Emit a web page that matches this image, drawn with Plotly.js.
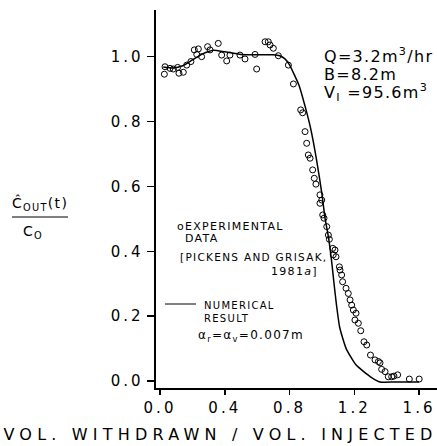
<!DOCTYPE html>
<html>
<head>
<meta charset="utf-8">
<script src="https://cdn.plot.ly/plotly-3.0.1.min.js"></script>
<style>
  body { margin: 0; background: #fff; }
  #chart { width: 437px; height: 446px; }
  .xtick text, .ytick text { letter-spacing: 3px; }
  .annotation-text { letter-spacing: 1.3px; }
</style>
</head>
<body>
<div id="chart"></div>
<script>
// Experimental data (Pickens and Grisak, 1981a)
const expX = [0.027,0.031,0.062,0.082,0.109,0.117,0.144,0.165,0.191,0.212,0.227,0.237,0.257,0.294,0.309,0.36,0.381,0.412,0.432,0.494,0.525,0.587,0.597,0.649,0.669,0.68,0.70,0.731,0.793,0.824,0.869,0.881,0.896,0.906,0.916,0.927,0.943,0.953,0.963,0.988,0.999,0.988,1.005,1.013,1.03,1.04,1.046,1.067,1.081,1.07,1.087,1.108,1.112,1.122,1.128,1.149,1.163,1.174,1.184,1.194,1.211,1.204,1.225,1.24,1.26,1.277,1.3,1.328,1.349,1.359,1.369,1.39,1.41,1.431,1.445,1.468,1.54,1.601];
const expY = [0.946,0.969,0.964,0.962,0.967,0.949,0.952,0.974,0.985,1.021,1.007,1.024,1.0,1.031,1.021,1.041,1.005,0.987,1.005,1.005,0.993,1.007,0.962,1.046,1.046,1.036,1.026,1.003,0.974,0.916,0.836,0.827,0.769,0.733,0.697,0.687,0.651,0.625,0.607,0.574,0.558,0.548,0.512,0.502,0.476,0.45,0.437,0.409,0.404,0.389,0.383,0.352,0.342,0.327,0.306,0.286,0.27,0.25,0.234,0.219,0.209,0.188,0.178,0.155,0.121,0.111,0.08,0.065,0.06,0.056,0.036,0.029,0.013,0.013,0.015,0.019,0.006,0.006];

// Numerical result
const numX = [0.02,0.08,0.14,0.2,0.26,0.33,0.4,0.5,0.6,0.7,0.74,0.77,0.8,0.83,0.86,0.9,0.93,0.968,1.0,1.02,1.04,1.06,1.075,1.09,1.11,1.15,1.21,1.3,1.36,1.45,1.6];
const numY = [0.968,0.965,0.972,0.99,1.008,1.02,1.015,1.007,1.006,1.006,1.003,0.994,0.975,0.944,0.91,0.84,0.78,0.679,0.577,0.50,0.445,0.37,0.30,0.235,0.165,0.10,0.05,0.013,-0.003,-0.003,-0.003];

const xTicks = [0.0,0.4,0.8,1.2,1.6];
const xTickText = ["0.0","0.4","0.8","1.2","1.6"];
const yTicks = [0.0,0.2,0.4,0.6,0.8,1.0];
const yTickText = ["0.0","0.2","0.4","0.6","0.8","1.0"];
const xTitle = 'VOL. WITHDRAWN / VOL. INJECTED';

const W = 437, H = 446;
const M = {l:156, r:0, t:10, b:58};
const pw = W - M.l - M.r, ph = H - M.t - M.b;
const px = v => (v - M.l) / pw;           // pixel x -> paper
const py = v => (H - M.b - v) / ph;       // pixel y -> paper

const F = "DejaVu Sans, Arial, sans-serif";

const traces = [
  {x: numX, y: numY, mode: 'lines', type: 'scatter',
   line: {color: '#000', width: 1.5, shape: 'spline', smoothing: 0.5}, hoverinfo: 'skip'},
  {x: expX, y: expY, mode: 'markers', type: 'scatter',
   marker: {symbol: 'circle-open', size: 6, color: '#000', line: {width: 1, color: '#000'}}, hoverinfo: 'skip'}
];

function ann(text, x, y, size, xanchor) {
  return {text: text, xref: 'paper', yref: 'paper', x: px(x), y: py(y), showarrow: false,
          xanchor: xanchor || 'left', yanchor: 'middle', font: {family: F, size: size, color: '#000'}};
}

const layout = {
  width: W, height: H,
  margin: M,
  paper_bgcolor: '#fff', plot_bgcolor: '#fff',
  showlegend: false,
  font: {family: F, color: '#000'},
  xaxis: {
    range: [(M.l - 160) / 161.9, (W - 160) / 161.9],
    tickvals: xTicks, ticktext: xTickText,
    ticks: 'outside', ticklen: 5, tickwidth: 1.5, tickcolor: '#000',
    showline: true, linecolor: '#000', linewidth: 2,
    showgrid: false, zeroline: false,
    tickfont: {family: F, size: 15, color: '#000'}
  },
  yaxis: {
    range: [(381 - 388) / 324.3, (381 - 10) / 324.3],
    tickvals: yTicks, ticktext: yTickText,
    ticks: 'outside', ticklen: 7, tickwidth: 1.5, tickcolor: '#000',
    showline: true, linecolor: '#000', linewidth: 2.5,
    showgrid: false, zeroline: false,
    tickfont: {family: F, size: 15, color: '#000'}
  },
  shapes: [
    {type: 'line', xref: 'paper', yref: 'paper', x0: px(12), x1: px(68), y0: py(217), y1: py(217),
     line: {color: '#000', width: 1}},
    {type: 'line', xref: 'paper', yref: 'paper', x0: px(165), x1: px(196), y0: py(304), y1: py(304),
     line: {color: '#000', width: 1}}
  ],
  annotations: [
    ann('Q=3.2m<sup>3</sup>/hr', 322, 55, 16),
    ann('B=8.2m', 322, 74, 16),
    ann('V<sub>I</sub> =95.6m<sup>3</sup>', 322, 93, 16),
    ann('oEXPERIMENTAL', 175, 226, 11),
    ann('DATA', 183, 238, 11),
    ann('[PICKENS AND GRISAK,', 178, 257, 10.5),
    ann('1981<i>a</i>]', 320, 271, 11, 'right'),
    ann('NUMERICAL', 202, 305, 10),
    ann('RESULT', 202, 318, 10),
    ann('α<sub>r</sub>=α<sub>v</sub>=0.007m', 196, 336, 12),
    ann('Ĉ<sub>OUT</sub>(t)', 40, 203, 14, 'center'),
    ann('C<sub>O</sub>', 33, 232, 14, 'center'),
    ann(xTitle, 220, 434, 16, 'center')
  ]
};

Plotly.newPlot('chart', traces, layout, {staticPlot: true, displayModeBar: false}).then(function () {
  document.querySelectorAll('.annotation-text').forEach(function (t) {
    if (t.textContent === xTitle) t.style.letterSpacing = '5.2px';
  });
});
</script>
</body>
</html>
